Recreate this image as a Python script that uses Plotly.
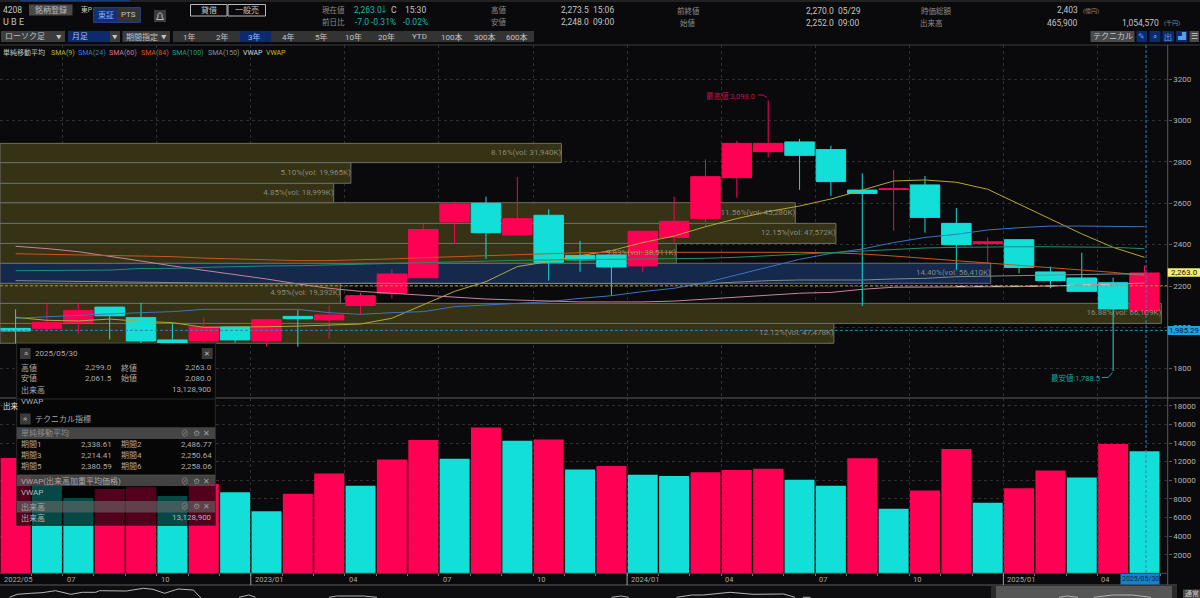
import plotly.graph_objects as go

# ---------- data ----------
months = [f"{y}/{m:02d}" for y, m in [(2022, m) for m in range(5, 13)] + [(2023, m) for m in range(1, 13)] + [(2024, m) for m in range(1, 13)] + [(2025, m) for m in range(1, 6)]]
bar_index = list(range(37))
opens = [1995,1995,2024,2098,2047,1939,1934,2002,1934,2053,2036,2106,2165,2240,2510,2600,2447,2542,2348,2350,2297,2435,2527,2724,2850,2897,2860,2664,2667,2689,2503,2405,2424,2268,2239,2216,2080]
highs = [2087,2116,2119,2098,2119,2019,2047,2002,2042,2084,2105,2168,2281,2500,2608,2632,2727,2571,2418,2350,2465,2632,2813,2902,3098,2911,2879,2745,2761,2732,2577,2435,2427,2294,2361,2240,2299]
lows = [1923,1979,1968,1942,1923,1919,1923,1926,1906,1906,1944,2063,2140,2240,2402,2331,2447,2226,2269,2153,2269,2410,2487,2627,2822,2665,2637,2103,2468,2458,2277,2315,2261,2189,2174,1788.5,2061.5]
closes = [1982,2024,2082,2056,1934,1919,2002,1939,2037,2042,2060,2153,2258,2473,2597,2458,2526,2315,2326,2292,2465,2513,2729,2890,2890,2832,2705,2648,2670,2532,2400,2414,2290,2226,2174,2089,2263]
volume = [12400,9385,8095,9060,9310,8310,9600,8700,6660,8560,10740,9415,12240,14320,12315,15680,14250,14390,11170,11530,10600,10450,10850,11100,11240,10060,9410,12380,6940,8910,13350,7590,9130,11060,10310,13890,13128.9]

sma9 = [2048,2034,2031,2040,2029,2023,2000,2000,2003,2006,2011,2016,2044,2108,2174,2221,2294,2318,2347,2371,2410,2442,2487,2526,2560,2587,2621,2664,2708,2713,2702,2668,2597,2524,2452,2387,2338.61]
sma24 = [2044,2052,2058,2065,2071,2076,2087,2087,2087,2087,2071,2063,2071,2076,2100,2108,2119,2124,2140,2153,2173,2189,2216,2253,2290,2329,2358,2379,2410,2435,2450,2471,2482,2490,2490,2488,2486.77]
sma60 = [2392,2381,2366,2345,2321,2297,2277,2256,2234,2210,2189,2174,2165,2156,2144,2137,2132,2127,2123,2123,2123,2127,2137,2148,2158,2165,2169,2184,2194,2194,2197,2197,2197,2200,2205,2213,2214.41]
sma84 = [2356,2353,2352,2348,2347,2342,2335,2331,2324,2323,2323,2326,2331,2337,2342,2348,2353,2358,2361,2363,2363,2365,2365,2365,2363,2363,2361,2355,2345,2334,2323,2311,2302,2289,2277,2266,2250.64]
sma100 = [2274,2274,2276,2277,2285,2285,2290,2294,2297,2298,2302,2306,2310,2313,2318,2321,2324,2326,2327,2329,2329,2331,2334,2339,2347,2355,2361,2368,2377,2384,2387,2390,2390,2390,2390,2387,2380.59]
sma150 = [2226,2224,2223,2219,2216,2215,2213,2211,2211,2211,2213,2213,2213,2213,2213,2213,2213,2213,2213,2213,2213,2213,2210,2219,2226,2229,2229,2229,2234,2237,2245,2248,2250,2253,2256,2258,2258.06]
sma_names = ["SMA(9)", "SMA(24)", "SMA(60)", "SMA(84)", "SMA(100)", "SMA(150)"]
sma_series = [sma9, sma24, sma60, sma84, sma100, sma150]
sma_colors = ["#b3a83a", "#3a74c4", "#c9839c", "#c8581f", "#1f8f6c", "#7d8a8c"]

vwap_white_x = [30, 31, 32, 33, 34, 35]
vwap_white = [2198, 2198, 2198, 2200, 2205, 2206]
level_yellow = 2201
level_blue = 1985.29
cursor_bar = 36.05

bin_low = [1923, 2019, 2116, 2213, 2310, 2406, 2503, 2603, 2697, 2797]
bin_high = [2019, 2116, 2213, 2310, 2406, 2503, 2603, 2697, 2797, 2890]
bin_pct = [12.12, 16.88, 4.95, 14.40, 9.83, 12.15, 11.56, 4.85, 5.10, 8.16]
bin_vol = ["47,478K", "66,109K", "19,392K", "56,410K", "38,511K", "47,572K", "45,280K", "18,999K", "19,965K", "31,940K"]
bin_fill = ["#353215"] * 3 + ["#14294c"] + ["#353215"] * 6

price_ticks = [1800, 2000, 2200, 2400, 2600, 2800, 3000, 3200]
vol_ticks = list(range(2000, 20000, 2000))
tick_bars = [0, 2, 5, 8, 11, 14, 17, 20, 23, 26, 29, 32, 35]
tick_labels = ["2022/05", "07", "10", "2023/01", "04", "07", "10", "2024/01", "04", "07", "10", "2025/01", "04"]
year_bars = [8, 20, 32]

nav_x = [9.6,17.2,30.6,42,55.5,70.8,82.3,95.7,99.5,126.3,143.5,153,164.6,178,193.3,201,None,239,248.8,255.6,None,329,336.8,363.6,377,None,611.5,621,628.7,None,676.5,691.8,703.3,730,753,783.7,795,None,802.8,810.5,None,1059,1067,1078,None,1093.7,1112.8,1132,1151]
nav_y = [.7,3.7,4.7,5.3,7.3,3.7,5.7,5.7,7.3,7,9.7,8.7,4.7,9,8,0,None,.7,3,.7,None,.7,2,2,.7,None,.7,2,.7,None,.7,3,3,5.7,3.7,4,.7,None,.7,.7,None,.7,2,.7,None,.7,3,3,.7]

# ---------- style ----------
W, H = 1200, 598
BG = "#0a0a0c"
RED, TEAL = "#ff0054", "#12dfd8"
AX_R = 1167.7
JP = "Roboto, Noto Sans CJK JP, sans-serif"
LIGHT = "#c4c4c4"
DIM = "#8a8a8a"
PANEL = "#aaaaaa"

fx = lambda x: x / W
fy = lambda y: 1 - y / H
anns, shapes = [], []


def T(x, y, text, color=LIGHT, size=8, anchor="left", **kw):
    anns.append(dict(x=fx(x), y=fy(y), xref="paper", yref="paper", text=text, showarrow=False,
                     xanchor=anchor, yanchor="middle", font=dict(color=color, size=size, family=JP),
                     borderpad=0, **kw))


def R(x0, y0, x1, y1, fill="rgba(0,0,0,0)", line=None, layer="above", lw=1):
    shapes.append(dict(type="rect", xref="paper", yref="paper", x0=fx(x0), x1=fx(x1), y0=fy(y0), y1=fy(y1),
                       fillcolor=fill, line=dict(color=line or "rgba(0,0,0,0)", width=lw if line else 0), layer=layer))


def L(x0, y0, x1, y1, color="#555", width=1, layer="above", dash="solid"):
    shapes.append(dict(type="line", xref="paper", yref="paper", x0=fx(x0), x1=fx(x1), y0=fy(y0), y1=fy(y1),
                       line=dict(color=color, width=width, dash=dash), layer=layer))


def B(x0, y0, x1, y1, text, fill="#3c3c3c", color=LIGHT, line=None, size=8, **kw):
    R(x0, y0, x1, y1, fill, line)
    T((x0 + x1) / 2, (y0 + y1) / 2, text, color, size, "center", **kw)


fig = go.Figure()

# volume profile (base subplot, behind the candles)
fig.add_trace(go.Bar(
    orientation="h", xaxis="x", yaxis="y",
    y=[(a + b) / 2 for a, b in zip(bin_low, bin_high)],
    x=bin_pct,
    width=[b - a for a, b in zip(bin_low, bin_high)],
    marker=dict(color=bin_fill, line=dict(color="#6e6e68", width=1)),
    showlegend=False, hoverinfo="skip",
))

# candles
fig.add_trace(go.Candlestick(
    x=bar_index, open=opens, high=highs, low=lows, close=closes, xaxis="x2", yaxis="y",
    increasing=dict(line=dict(color=RED, width=1), fillcolor=RED),
    decreasing=dict(line=dict(color=TEAL, width=1), fillcolor=TEAL),
    whiskerwidth=0, text=months, showlegend=False,
))

# moving averages and levels
for name, series, color in zip(sma_names, sma_series, sma_colors):
    fig.add_trace(go.Scatter(x=bar_index, y=series, mode="lines", name=name, xaxis="x2", yaxis="y",
                             line=dict(color=color, width=1), showlegend=False))
fig.add_trace(go.Scatter(x=vwap_white_x, y=vwap_white, mode="lines", xaxis="x2", yaxis="y", showlegend=False,
                         line=dict(color="#d8d0c8", width=1, dash="dash"), hoverinfo="skip"))
x_ends = [-0.5, 36.74]
fig.add_trace(go.Scatter(x=x_ends, y=[level_yellow] * 2, mode="lines", xaxis="x2", yaxis="y", showlegend=False,
                         line=dict(color="#a89c46", width=1, dash="3px,2px"), hoverinfo="skip"))
fig.add_trace(go.Scatter(x=x_ends, y=[level_blue] * 2, mode="lines", xaxis="x2", yaxis="y", showlegend=False,
                         line=dict(color="#2f86b8", width=1, dash="3px,2px"), hoverinfo="skip"))

# volume-profile labels, above the candles
fig.add_trace(go.Scatter(
    x=bin_pct, y=[(a + b) / 2 for a, b in zip(bin_low, bin_high)], mode="text", xaxis="x5", yaxis="y",
    text=[f"{p:.2f}%(vol: {v})" for p, v in zip(bin_pct, bin_vol)], textposition="middle left",
    textfont=dict(color="rgba(160,160,150,0.82)", size=8, family="Roboto, sans-serif"),
    showlegend=False, hoverinfo="skip", cliponaxis=False,
))

# volume bars, red when volume rose on the previous month
vol_colors = [RED] + [RED if b > a else TEAL for a, b in zip(volume, volume[1:])]
fig.add_trace(go.Bar(x=bar_index, y=volume, marker=dict(color=vol_colors, line=dict(width=0)), width=0.955,
                     xaxis="x3", yaxis="y3", showlegend=False, text=months, textposition="none"))

# navigator line
fig.add_trace(go.Scatter(x=nav_x, y=nav_y, mode="lines", xaxis="x4", yaxis="y4", showlegend=False,
                         line=dict(color="#b4b4b4", width=1), hoverinfo="skip", connectgaps=False))

# ---------- chrome ----------
# top rows
L(0, 1, W, 1, "#3a3a3a")
R(20, 0, 130, 1.5, "#1a3a7a")
T(2, 9.5, "4208", LIGHT, 8.5)
T(2, 21.5, "U B E", LIGHT, 9)
B(29, 4.5, 72.5, 15.5, "銘柄登録", "#4a4a4a", "#b8b8b8")
T(80, 9.5, "東P", LIGHT, 6.8)
R(93.5, 7.5, 140.5, 22.5, "#333333", "#1f3f7f")
B(94.5, 8.5, 117, 21.5, "東証", "#10307a", "#7fb0ff")
T(128.5, 15, "PTS", LIGHT, 8, "center")
R(154, 10, 166, 22, "#3c3c3c")
_p = [(156.5, 19.5), (158, 17), (158, 14.5), (160, 12.5), (162, 14.5), (162, 17), (163.5, 19.5)]
shapes.append(dict(type="path", xref="paper", yref="paper", layer="above",
                   path="M " + " L ".join(f"{fx(a)},{fy(b)}" for a, b in _p) + " Z",
                   line=dict(color="#c0c0c0", width=1), fillcolor="rgba(0,0,0,0)"))
B(190.5, 4.5, 227, 16, "貸借", "#0a0a0c", LIGHT, "#b8b8b8")
B(228, 4.5, 265.5, 16, "一般売", "#0a0a0c", LIGHT, "#b8b8b8")
T(333, 10, "現在値", DIM, 7.5, "center")
T(353, 10, "2,263.0", "#12b8a8", 8.5)
T(384, 10, "↓", "#12b8a8", 8, "center")
T(394, 10, "C", LIGHT, 8.5, "center")
T(404, 10, "15:30", LIGHT, 8.5)
T(333, 22, "前日比", DIM, 7.5, "center")
T(362, 22, "-7.0", "#12b8a8", 8.5, "center")
T(383, 22, "-0.31%", "#12b8a8", 8.5, "center")
T(415, 22, "-0.02%", "#12b8a8", 8.5, "center")
T(499, 10, "高値", DIM, 7.5, "center")
T(499, 22, "安値", DIM, 7.5, "center")
T(590, 10, "2,273.5", LIGHT, 8.5, "right")
T(592, 10, "15:06", LIGHT, 8.5)
T(590, 22, "2,248.0", LIGHT, 8.5, "right")
T(592, 22, "09:00", LIGHT, 8.5)
T(688, 11, "前終値", DIM, 7.5, "center")
T(688, 23, "始値", DIM, 7.5, "center")
T(835, 10.5, "2,270.0", LIGHT, 8.5, "right")
T(837, 10.5, "05/29", LIGHT, 8.5)
T(835, 22.5, "2,252.0", LIGHT, 8.5, "right")
T(837, 22.5, "09:00", LIGHT, 8.5)
T(936, 10.5, "時価総額", DIM, 7.5, "center")
T(931, 22.5, "出来高", DIM, 7.5, "center")
T(1079, 10, "2,403", LIGHT, 8.5, "right")
T(1082, 10.5, "(億円)", DIM, 6)
T(1079, 22.5, "465,900", LIGHT, 8.5, "right")
T(1160, 22.5, "1,054,570", LIGHT, 8.5, "right")
T(1163, 23, "(千円)", DIM, 6)

# selector row
R(1, 31, 65, 42, "#3c3c3c")
T(4, 36.5, "ローソク足", LIGHT, 8)
T(59, 36.5, "▼", LIGHT, 5.5, "center")
R(68, 31, 110, 42, "#0e2a6e")
T(71, 36.5, "月足", "#9fc0ff", 8)
B(110, 31, 120, 42, "▼", "#3c3c3c", LIGHT, size=5.5)
R(122.5, 31, 170, 42, "#3c3c3c")
T(125, 36.5, "期間指定", LIGHT, 8)
T(164, 36.5, "▼", LIGHT, 5.5, "center")
R(173, 31, 534, 42, "#333333")
R(240, 31, 271, 42, "#0e2a6e")
for px_x, lbl in zip([189, 222, 254.5, 288, 321, 353, 386.5, 419, 451.6, 485, 517],
                     ["1年", "2年", "3年", "4年", "5年", "10年", "20年", "YTD", "100本", "300本", "600本"]):
    T(px_x, 36.5, lbl, "#9fc0ff" if lbl == "3年" else LIGHT, 8, "center")
B(1090.5, 31, 1134.5, 42, "テクニカル", "#4a4a4a", "#c8c8c8")
for x0, x1, lbl in [(1136.5, 1147, "✎"), (1149.5, 1160.5, "⌕"), (1162.5, 1174, "出"), (1176, 1187.5, "▟")]:
    B(x0, 31, x1, 42, lbl, "#0e2a6e", "#5aa0f0", size=8)
B(1189.5, 31, 1199, 42, "☰", "#4a4a4a", "#c8c8c8", size=8)

# legend row
L(0, 45, W, 45, "#3c3c3c")
T(2, 52.5, "単純移動平均", LIGHT, 7)
for x0, name, color in zip([50, 76.5, 108, 140, 171, 207], sma_names,
                           ["#b8b83a", "#3a7ad0", "#d0789a", "#d8581c", "#1f9f78", "#8a9090"]):
    T(x0, 52.5, name, color, 7)
T(242, 52.5, "VWAP", "#d8d8d8", 7)
T(265, 52.5, "VWAP", "#c8b820", 7)

# axis frame
L(AX_R, 45, AX_R, 585, "#5a5a5a")
L(0, 398, W, 398, "#5a5a5a", 1.2)
L(0, 573.3, AX_R, 573.3, "#4a4a4a")
L(0, 585, 1177, 585, "#5a5a5a", 1)
shapes.append(dict(type="line", xref="x2", yref="paper", x0=cursor_bar, x1=cursor_bar, y0=fy(573), y1=fy(45),
                   line=dict(color="#2f86b8", width=1, dash="3px,2px"), layer="above"))
for b in year_bars:
    shapes.append(dict(type="line", xref="x3", yref="paper", x0=b - 0.5, x1=b - 0.5, y0=fy(585), y1=fy(573),
                       line=dict(color="#a0a0a0", width=1), layer="above"))

# price tags
R(AX_R, 268.3, W, 276.7, "#f6f06a")
T(1184.5, 272.5, "2,263.0", "#14140a", 8, "center")
R(AX_R, 326, W, 335, "#1ea3e6")
T(1184, 330.5, "1,985.29", "#082030", 7.8, "center")

# high / low callouts
T(756, 95.7, "最高値:3,098.0", "#c4104c", 7.5, "right")
L(758, 95, 763, 95, "#c4104c")
L(763, 95, 767, 97.5, "#c4104c")
T(1100.7, 377.7, "最安値:1,788.5", "#12a89e", 7.5, "right")
L(1102, 377.5, 1108, 377.5, "#12a89e")
L(1108, 377.5, 1112.5, 372.5, "#12a89e")

# date labels
X_RANGE = [-15.6 / 31.358, (AX_R - 15.6) / 31.358]
for b, lbl in zip(tick_bars, tick_labels):
    anns.append(dict(x=max(b - 0.5, X_RANGE[0]), xref="x3", y=fy(579.5), yref="paper", text=lbl, showarrow=False,
                     xanchor="left", yanchor="middle", xshift=2, font=dict(color="#a8a8a8", size=7.5, family=JP)))
B(1120.5, 574, 1159.5, 584.5, months[-1] + "/30", "#1680cc", "#0a2a44", size=7)
T(2, 406, "出来", "#e0e0e0", 7.5)

# info panel
PX0, PX1 = 16.7, 215.3
R(PX0, 343.5, PX1, 475, "#060607", "#2a2a2a")
R(PX0, 475, PX1, 525.3, "rgba(0,0,0,0.68)", "#2a2a2a")
R(PX0, 427.3, PX1, 439, "#454545")
R(PX0, 475, PX1, 486, "rgba(105,105,105,0.62)")
R(PX0, 501, PX1, 512.5, "rgba(105,105,105,0.62)")
L(PX0, 399, PX1, 399, "#2a2a2a")
B(20, 348, 30.7, 359, "»", "#3a3a3a", "#bbbbbb", size=9, textangle=-90)
B(201.7, 348, 212.7, 359, "✕", "#3a3a3a", "#bbbbbb", size=7)
T(34, 353.3, "2025/05/30", PANEL, 8)
rows = [(367.7, "高値", "2,299.0", "終値", "2,263.0"), (378.3, "安値", "2,061.5", "始値", "2,080.0")]
rows2 = [(444.3, "期間1", "2,338.61", "期間2", "2,486.77"), (455.3, "期間3", "2,214.41", "期間4", "2,250.64"),
         (466.3, "期間5", "2,380.59", "期間6", "2,258.06")]
for y, a, b, c, d in rows + rows2:
    T(20, y, a, PANEL, 8)
    T(112.7, y, b, PANEL, 8, "right")
    T(120, y, c, PANEL, 8)
    T(212.7, y, d, PANEL, 8, "right")
T(20, 389.7, "出来高", PANEL, 8)
T(212.7, 389.7, "13,128,900", PANEL, 8, "right")
T(20, 401, "VWAP", PANEL, 8)
B(20, 413.5, 30.7, 424.5, "»", "#3a3a3a", "#bbbbbb", size=9, textangle=-90)
T(34, 418.7, "テクニカル指標", PANEL, 8)
T(20, 433, "単純移動平均", "#8c8c8c", 8)
T(20, 481, "VWAP(出来高加重平均価格)", "#a8a8a8", 8)
T(20, 492, "VWAP", "#b8b8b8", 8)
T(20, 506.7, "出来高", "#a8a8a8", 8)
T(20, 517.7, "出来高", "#b8b8b8", 8)
T(212.7, 517.7, "13,128,900", "#b8b8b8", 8, "right")
for y in [433, 481, 506.7]:
    T(185, y, "⊘", "#8c8c8c", 7.5, "center")
    T(196, y, "⚙", "#8c8c8c", 7.5, "center")
    T(207, y, "✕", "#a0a0a0", 7.5, "center")

# navigator background
R(0, 585.5, 1177, 598, "#0e0e10", layer="below")
R(996, 586, 1172, 598, "#565656", layer="below")
R(991, 586, 996, 598, "#2a2a2a", layer="below")
R(1172, 586, 1177, 598, "#2a2a2a", layer="below")
B(1183, 589.5, 1200, 598, "通常", "#4a4a4a", "#c8c8c8", size=7)

# ---------- layout ----------
PRICE_DOM = [fy(398), fy(45)]
VOL_DOM = [fy(573.3), fy(398)]
DOM = [0, AX_R / W]
tick_font = dict(color="#b4b4b4", size=8, family="Roboto, sans-serif")
grid = dict(gridcolor="#2e2e2e", griddash="dot", gridwidth=1)

fig.update_layout(
    width=W, height=H, margin=dict(l=0, r=0, t=0, b=0), autosize=False,
    paper_bgcolor=BG, plot_bgcolor=BG, barmode="overlay", boxgap=0.06, boxgroupgap=0, showlegend=False,
    annotations=anns, shapes=shapes,
    font=dict(family=JP, color=LIGHT),
    xaxis=dict(domain=DOM, range=[0, AX_R / 68.8], visible=False, anchor="y"),
    xaxis2=dict(domain=DOM, range=X_RANGE, overlaying="x", anchor="y", visible=True, showticklabels=False, ticks="",
                tickvals=[b - 0.5 for b in tick_bars], showgrid=True, zeroline=False, showline=False,
                rangeslider=dict(visible=False), **grid),
    xaxis5=dict(domain=DOM, range=[0, AX_R / 68.8], overlaying="x", anchor="y", visible=False),
    yaxis=dict(domain=PRICE_DOM, range=[2200 - (398 - 286) / 0.2067, 2200 + (286 - 45) / 0.2067], side="right",
               anchor="x", tickvals=price_ticks, tickformat="d", tickfont=tick_font, ticks="outside", ticklen=3,
               tickcolor="#5a5a5a", showgrid=True, zeroline=False, showline=False, **grid),
    xaxis3=dict(domain=DOM, range=X_RANGE, anchor="y3", tickvals=[b - 0.5 for b in tick_bars],
                showticklabels=False, ticks="", zeroline=False, showline=False, showgrid=True,
                minor=dict(ticks="outside", ticklen=2, tickcolor="#777777", tick0=-0.5, dtick=1, showgrid=False), **grid),
    yaxis3=dict(domain=VOL_DOM, range=[0, 18845], side="right", anchor="x3", tickvals=vol_ticks, tickformat="d",
                tickfont=tick_font, ticks="outside", ticklen=3, tickcolor="#5a5a5a", showgrid=True, zeroline=False,
                showline=False, **grid),
    xaxis4=dict(domain=[0, 1], range=[0, W], anchor="y4", visible=False),
    yaxis4=dict(domain=[0, fy(585.5)], range=[0, 12.5], anchor="x4", visible=False),
)

fig.write_html("out.html", config=dict(displayModeBar=False),
               post_script="document.body.style.margin='0';document.body.style.overflow='hidden';"
                           f"document.body.style.background='{BG}';")
